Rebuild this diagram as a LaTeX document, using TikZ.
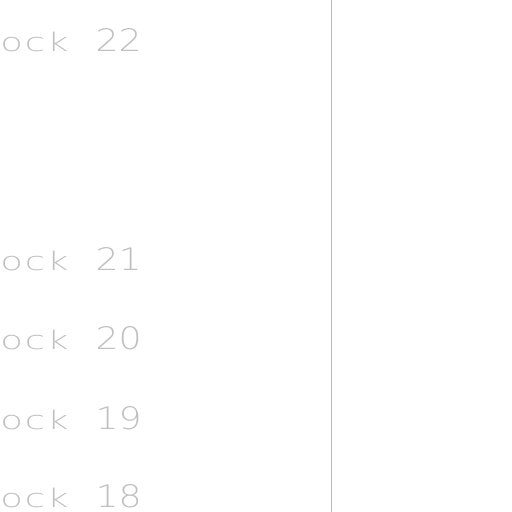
\documentclass[tikz,border=0pt]{standalone}
\usepackage{graphicx}
\usepackage{fontspec}
\newfontfamily\cadfont{DejaVu Sans}[UprightFont=* ExtraLight]
\newfontfamily\cadwide{DejaVu Sans}[UprightFont=* ExtraLight,LetterSpace=5]
\definecolor{txtgray}{RGB}{192,192,192}
\definecolor{linegray}{RGB}{185,185,185}
\newcommand{\wordbox}[1]{\scalebox{1.45}[1]{#1}}
\newcommand{\numbox}[1]{\scalebox{1.17}[1]{#1}}
\begin{document}
\begin{tikzpicture}[x=1pt,y=-1pt,
  lbl/.style={anchor=base west,inner sep=0pt,outer sep=0pt,text=txtgray,font=\cadwide\fontsize{25.5}{25.5}\selectfont},
  num/.style={anchor=base west,inner sep=0pt,outer sep=0pt,text=txtgray,font=\cadfont\fontsize{31}{31}\selectfont}]
\useasboundingbox (0,0) rectangle (512,512);
\coordinate (ltop) at (331,0);
\coordinate (lbot) at (331,512);
\draw[linegray,line width=0.8pt] (ltop) -- (lbot);
\foreach \n/\y in {22/51,21/270,20/349,19/429,18/507}{
  \node[lbl] (w\n) at (0.5,\y) {\wordbox{ock}};
  \node[num] (n\n) at (95.5,\y) {\numbox{\n}};
}
\end{tikzpicture}
\end{document}
